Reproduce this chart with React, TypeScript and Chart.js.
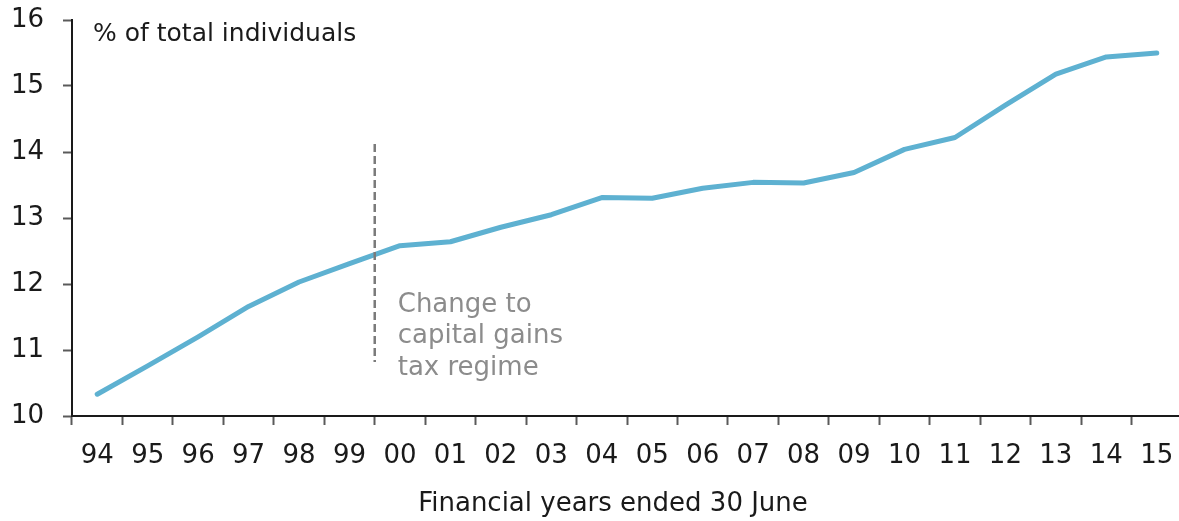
import React, { useEffect, useRef } from "react";
import { Chart, registerables } from "chart.js";

Chart.register(...registerables);

// ---- data ----
const years = ["94", "95", "96", "97", "98", "99", "00", "01", "02", "03", "04", "05", "06", "07", "08", "09", "10", "11", "12", "13", "14", "15"];
const shareOfIndividuals = [10.33, 10.76, 11.2, 11.66, 12.03, 12.31, 12.58, 12.64, 12.86, 13.05, 13.31, 13.3, 13.45, 13.54, 13.53, 13.69, 14.04, 14.22, 14.71, 15.18, 15.44, 15.5];
const yTicks = [10, 11, 12, 13, 14, 15, 16];
const yAxisTitle = "% of total individuals";
const xAxisTitle = "Financial years ended 30 June";
const annotationLines = ["Change to", "capital gains", "tax regime"];
// marker sits on the boundary between "99" and "00"
const regimeChangeBoundary = 5.5;
const markerRange = [10.82, 14.12];
const annotationBaseline = 11.58;

const FONT = "'DejaVu Sans', sans-serif";
const CANVAS_W = 1182; // plot area runs slightly past the right edge of the frame, as in the original

export default function App() {
  const ref = useRef<HTMLCanvasElement>(null);

  useEffect(() => {
    document.body.style.margin = "0";
    const canvas = ref.current;
    if (!canvas) return;

    const overlay = {
      id: "overlay",
      afterDatasetsDraw(chart: any) {
        const { ctx, chartArea, scales } = chart;
        const x = scales.x.getPixelForValue(regimeChangeBoundary);
        const yTop = scales.y.getPixelForValue(markerRange[1]);
        const yBot = scales.y.getPixelForValue(markerRange[0]);
        ctx.save();
        ctx.strokeStyle = "#7a7a7a";
        ctx.lineWidth = 2.5;
        ctx.setLineDash([8, 4]);
        ctx.beginPath();
        ctx.moveTo(x, yTop);
        ctx.lineTo(x, yBot);
        ctx.stroke();
        ctx.setLineDash([]);

        ctx.font = `26px ${FONT}`;
        ctx.fillStyle = "#8c8c8c";
        ctx.textAlign = "left";
        ctx.textBaseline = "alphabetic";
        const base = scales.y.getPixelForValue(annotationBaseline);
        annotationLines.forEach((t, i) => ctx.fillText(t, x + 23, base + i * 31.7));

        ctx.font = `25px ${FONT}`;
        ctx.fillStyle = "#1a1a1a";
        ctx.fillText(yAxisTitle, chartArea.left + 21, chartArea.top + 21);

        // x-axis title, centred a little left of the plot centre as in the original
        ctx.font = `26px ${FONT}`;
        ctx.textAlign = "center";
        ctx.textBaseline = "middle";
        ctx.fillText(xAxisTitle, (chartArea.left + chartArea.right) / 2 - 14, scales.x.bottom - 16.6);
        ctx.restore();
      },
    };

    const chart = new Chart(canvas, {
      type: "line",
      data: {
        labels: years,
        datasets: [
          {
            data: shareOfIndividuals,
            borderColor: "#5eb1d1",
            borderWidth: 5,
            pointRadius: 0,
            tension: 0,
            borderCapStyle: "round",
            borderJoinStyle: "round",
            fill: false,
          },
        ],
      },
      options: {
        animation: false,
        responsive: false,
        maintainAspectRatio: false,
        layout: { padding: { top: 20, right: 0, left: 0, bottom: 0 } },
        plugins: {
          legend: { display: false },
          tooltip: { enabled: false },
          title: { display: false },
        },
        scales: {
          x: {
            type: "category",
            offset: true,
            grid: {
              offset: true,
              drawOnChartArea: false,
              drawTicks: true,
              tickLength: 9,
              tickColor: "#5a5a5a",
              tickWidth: 2,
            },
            border: { display: true, color: "#1a1a1a", width: 2 },
            ticks: {
              color: "#1a1a1a",
              font: { family: FONT, size: 26 },
              padding: 16,
              maxRotation: 0,
              autoSkip: false,
            },
            title: { display: false },
            afterFit: (s: any) => {
              s.height = 105;
              s.paddingRight = 0;
              s.paddingLeft = 0;
            },
          },
          y: {
            min: 10,
            max: 16,
            afterBuildTicks: (s: any) => {
              s.ticks = yTicks.map((v) => ({ value: v }));
            },
            ticks: {
              color: "#1a1a1a",
              font: { family: FONT, size: 26 },
              padding: 19,
            },
            grid: {
              drawOnChartArea: false,
              drawTicks: true,
              tickLength: 9,
              tickColor: "#5a5a5a",
              tickWidth: 2,
            },
            border: { display: true, color: "#1a1a1a", width: 2 },
            afterFit: (s: any) => {
              s.width = 72;
              s.paddingTop = 0;
              s.paddingBottom = 0;
              s.paddingLeft = 0;
              s.paddingRight = 0;
            },
          },
        },
      },
      plugins: [overlay],
    } as any);

    return () => chart.destroy();
  }, []);

  return (
    <div style={{ width: 1179, height: 521, background: "#fff", overflow: "hidden" }}>
      <canvas ref={ref} width={CANVAS_W} height={521} style={{ display: "block", width: CANVAS_W, height: 521 }} />
    </div>
  );
}
